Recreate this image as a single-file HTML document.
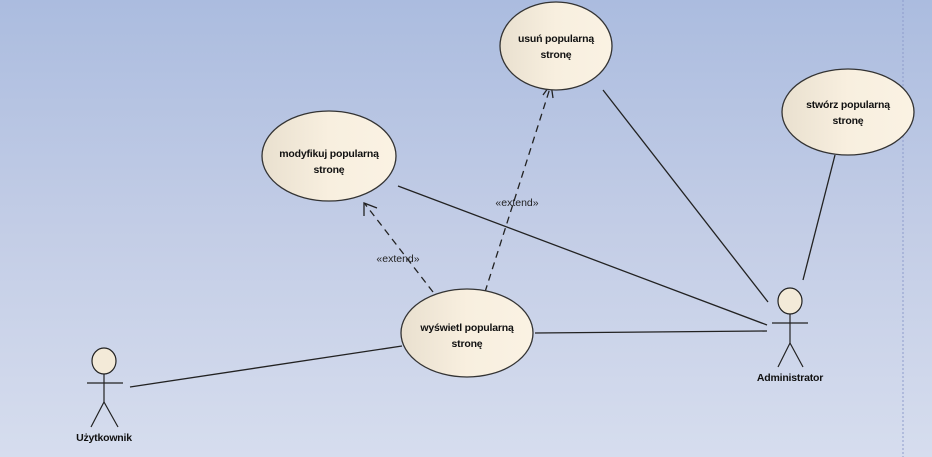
<!DOCTYPE html>
<html><head><style>
body{margin:0;width:932px;height:457px;overflow:hidden;background:linear-gradient(180deg,#abbcdf 0%,#c3cde6 50%,#d6ddee 100%);}
svg{position:absolute;left:0;top:0;}
text{font-family:"Liberation Sans",sans-serif;}
</style></head><body>
<svg width="932" height="457" viewBox="0 0 932 457">
<defs>
<linearGradient id="g" x1="0" x2="1" y1="0" y2="0">
<stop offset="0" stop-color="#e9e0cf"/><stop offset="0.5" stop-color="#f8efdf"/><stop offset="1" stop-color="#faf2e3"/>
</linearGradient>
</defs>
<line x1="903" y1="0" x2="903" y2="457" stroke="#8e9ccc" stroke-width="1" stroke-dasharray="2,2"/>
<g stroke="#222" stroke-width="1.3" fill="none">
<line x1="130" y1="387" x2="402" y2="346"/>
<line x1="535" y1="333" x2="767" y2="331"/>
<line x1="398" y1="186" x2="767" y2="325"/>
<line x1="603" y1="90" x2="768" y2="302"/>
<line x1="835" y1="155" x2="803" y2="280"/>
<line x1="433" y1="292" x2="365" y2="204" stroke-dasharray="7,5"/>
<polyline points="364,216 364,203 377,208"/>
<line x1="485" y1="292" x2="551" y2="85" stroke-dasharray="7,5"/>
<polyline points="543,95 551,84 553,98"/>
</g>
<g fill="url(#g)" stroke="#333" stroke-width="1.3">
<ellipse cx="556" cy="46" rx="56" ry="44"/>
<ellipse cx="848" cy="112" rx="66" ry="43"/>
<ellipse cx="329" cy="156" rx="67" ry="45"/>
<ellipse cx="467" cy="333" rx="66" ry="44"/>
</g>
<g font-size="10.5" font-weight="bold" fill="#111" text-anchor="middle" letter-spacing="-0.2">
<text x="556" y="42">usuń popularną</text><text x="556" y="58">stronę</text>
<text x="848" y="108">stwórz popularną</text><text x="848" y="124">stronę</text>
<text x="329" y="157">modyfikuj popularną</text><text x="329" y="173">stronę</text>
<text x="467" y="331">wyświetl popularną</text><text x="467" y="347">stronę</text>
<text x="104" y="441">Użytkownik</text>
<text x="790" y="381">Administrator</text>
</g>
<g font-size="10.5" fill="#222" text-anchor="middle">
<text x="398" y="262">«extend»</text>
<text x="517" y="206">«extend»</text>
</g>
<g stroke="#222" stroke-width="1.2" fill="url(#g)">
<ellipse cx="104" cy="361" rx="12" ry="13" fill="#f3ead8"/>
<line x1="87" y1="383" x2="123" y2="383"/>
<line x1="104" y1="374" x2="104" y2="402"/>
<polyline points="91,427 104,402 118,427" fill="none"/>
<ellipse cx="790" cy="301" rx="12" ry="13" fill="#f3ead8"/>
<line x1="772" y1="323" x2="808" y2="323"/>
<line x1="790" y1="314" x2="790" y2="343"/>
<polyline points="778,367 790,343 803,367" fill="none"/>
</g>
</svg>
</body></html>
